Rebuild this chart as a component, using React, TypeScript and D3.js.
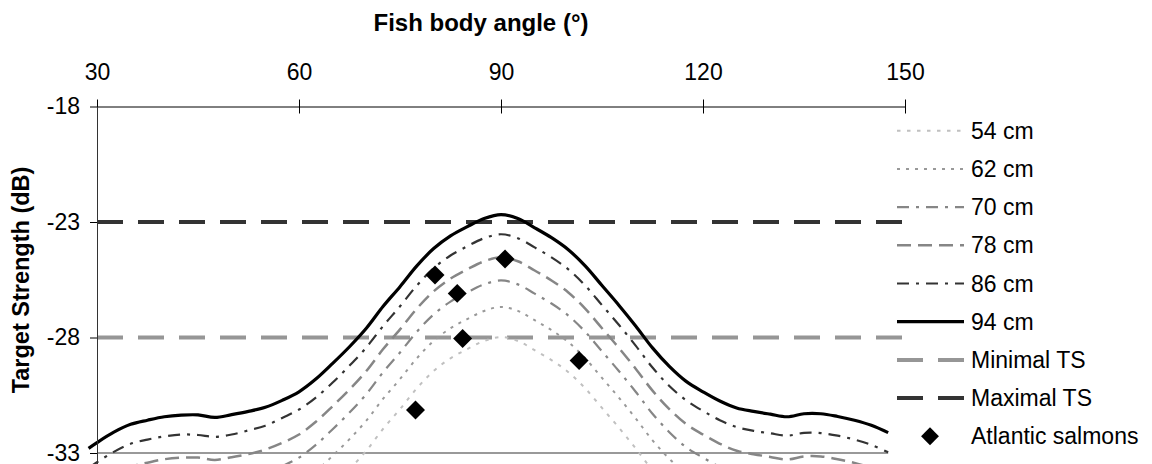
import * as d3 from 'd3';
import React, { Component } from 'react';

// fish body angle (deg), shared by every modelled curve
const angles = [
  28.75, 30, 32.5, 35, 37.5, 40, 42.5, 45, 47.5, 50, 52.5, 55, 57.5, 60, 62.5, 65, 67.5, 70,
  72.5, 75, 77.5, 80, 82.5, 85, 87.5, 90, 92.5, 95, 97.5, 100, 102.5, 105, 107.5, 110, 112.5,
  115, 117.5, 120, 122.5, 125, 127.5, 130, 132.5, 135, 137.5, 140, 142.5, 145, 147.5,
];

const sizeLabels = ['54 cm', '62 cm', '70 cm', '78 cm', '86 cm', '94 cm'];

const ts54 = [
  -38.1, -37.85, -37.4, -37.06, -36.88, -36.73, -36.66, -36.65, -36.76, -36.64, -36.5, -36.32,
  -36.02, -35.65, -35.1, -34.42, -33.7, -32.9, -31.95, -31.1, -30.2, -29.45, -28.9, -28.5,
  -28.15, -27.98, -28.15, -28.55, -28.98, -29.5, -30.2, -31.05, -31.9, -32.8, -33.75, -34.55,
  -35.2, -35.65, -36.05, -36.35, -36.5, -36.62, -36.73, -36.6, -36.6, -36.72, -36.88, -37.1, -37.42,
];
const ts62 = [
  -36.8, -36.55, -36.1, -35.76, -35.58, -35.43, -35.36, -35.35, -35.46, -35.34, -35.2, -35.02,
  -34.72, -34.35, -33.8, -33.12, -32.4, -31.6, -30.65, -29.8, -28.9, -28.15, -27.6, -27.2,
  -26.85, -26.68, -26.85, -27.25, -27.68, -28.2, -28.9, -29.75, -30.6, -31.5, -32.45, -33.25,
  -33.9, -34.35, -34.75, -35.05, -35.2, -35.32, -35.43, -35.3, -35.3, -35.42, -35.58, -35.8, -36.12,
];
const ts70 = [
  -35.65, -35.4, -34.95, -34.6, -34.43, -34.28, -34.2, -34.2, -34.3, -34.2, -34.05, -33.87,
  -33.57, -33.2, -32.65, -31.97, -31.25, -30.45, -29.5, -28.65, -27.75, -27.0, -26.45, -26.05,
  -25.7, -25.53, -25.7, -26.1, -26.53, -27.05, -27.75, -28.6, -29.45, -30.35, -31.3, -32.1,
  -32.75, -33.2, -33.6, -33.9, -34.05, -34.17, -34.28, -34.15, -34.15, -34.27, -34.43, -34.65, -34.97,
];
const ts78 = [
  -34.65, -34.4, -33.95, -33.6, -33.42, -33.27, -33.2, -33.2, -33.3, -33.18, -33.05, -32.85,
  -32.56, -32.2, -31.65, -30.97, -30.25, -29.45, -28.5, -27.65, -26.75, -26.0, -25.45, -25.05,
  -24.7, -24.53, -24.7, -25.1, -25.53, -26.05, -26.75, -27.6, -28.45, -29.35, -30.3, -31.1,
  -31.75, -32.2, -32.6, -32.9, -33.05, -33.17, -33.28, -33.15, -33.15, -33.27, -33.43, -33.65, -33.97,
];
const ts86 = [
  -33.65, -33.4, -32.95, -32.6, -32.42, -32.28, -32.2, -32.22, -32.3, -32.2, -32.02, -31.82,
  -31.48, -31.12, -30.6, -29.95, -29.22, -28.43, -27.5, -26.65, -25.75, -25.0, -24.45, -24.05,
  -23.7, -23.53, -23.7, -24.1, -24.53, -25.05, -25.75, -26.6, -27.45, -28.35, -29.3, -30.1,
  -30.72, -31.18, -31.58, -31.88, -32.04, -32.15, -32.25, -32.13, -32.14, -32.25, -32.42, -32.65, -32.97,
];
const ts94 = [
  -32.8, -32.55, -32.1, -31.76, -31.58, -31.43, -31.36, -31.35, -31.46, -31.34, -31.2, -31.02,
  -30.72, -30.35, -29.8, -29.12, -28.4, -27.6, -26.65, -25.8, -24.9, -24.15, -23.6, -23.2,
  -22.85, -22.68, -22.85, -23.25, -23.68, -24.2, -24.9, -25.75, -26.6, -27.5, -28.45, -29.25,
  -29.9, -30.35, -30.75, -31.05, -31.2, -31.32, -31.43, -31.3, -31.3, -31.42, -31.58, -31.8, -32.12,
];

const salmonAngles = [77.3, 80.2, 83.5, 84.3, 90.6, 101.6];
const salmonTS = [-31.14, -25.29, -26.09, -28.04, -24.6, -29.0];

const minimalTS = -28;
const maximalTS = -23;
const baseTS = -33;

const xTicks = [30, 60, 90, 120, 150];
const yTicks = [-18, -23, -28, -33];

const font = "'Liberation Sans', Arial, sans-serif";

// one style per size curve, same order as sizeLabels
const curveStyles = [
  { color: '#c0c0c0', width: 2, dash: '3.5,6.5' },
  { color: '#999999', width: 2, dash: '3,6' },
  { color: '#868686', width: 2.2, dash: '12,7,3,7' },
  { color: '#868686', width: 2.5, dash: '14,7' },
  { color: '#333333', width: 2.2, dash: '12,7,3,7' },
  { color: '#000000', width: 3.2, dash: null },
];

interface IChartProps {}

class FishChart extends Component<IChartProps> {
  private node: any;
  constructor(props) {
    super(props);
    this.createChart = this.createChart.bind(this);
  }

  componentDidMount() {
    this.createChart();
  }

  componentDidUpdate() {
    this.createChart();
  }

  createChart() {
    const width = 1152;
    const height = 464;
    const series = [ts54, ts62, ts70, ts78, ts86, ts94];

    const svg = d3.select(this.node);
    svg.selectAll('*').remove();
    svg
      .attr('width', width)
      .attr('height', height)
      .style('position', 'absolute')
      .style('left', '0px')
      .style('top', '0px')
      .style('font-family', font)
      .style('background', '#fff');

    // plot runs past the bottom of the picture, like the cropped original
    const x = d3.scaleLinear().domain([30, 150]).range([97, 905]);
    const y = d3.scaleLinear().domain([-38, -18]).range([568.5, 106.5]);

    // grey base line
    svg
      .append('line')
      .attr('x1', x(30))
      .attr('x2', x(angles[angles.length - 1]))
      .attr('y1', y(baseTS))
      .attr('y2', y(baseTS))
      .attr('stroke', '#999')
      .attr('stroke-width', 2);

    // threshold lines
    const thresholds = [
      { v: minimalTS, color: '#969696' },
      { v: maximalTS, color: '#333333' },
    ];
    thresholds.forEach((t) => {
      svg
        .append('line')
        .attr('x1', x(30))
        .attr('x2', x(150))
        .attr('y1', y(t.v))
        .attr('y2', y(t.v))
        .attr('stroke', t.color)
        .attr('stroke-width', 4)
        .attr('stroke-dasharray', '26,15');
    });

    const line = d3
      .line<number>()
      .x((d, i) => x(angles[i]))
      .y((d) => y(d))
      .curve(d3.curveCatmullRom.alpha(0.5));

    series.forEach((s, i) => {
      const st = curveStyles[i];
      svg
        .append('path')
        .attr('d', line(s))
        .attr('fill', 'none')
        .attr('stroke', st.color)
        .attr('stroke-width', st.width)
        .attr('stroke-dasharray', st.dash);
    });

    // salmon measurements
    const diamond = d3.symbol().type(d3.symbolSquare).size(180);
    svg
      .selectAll('path.salmon')
      .data(salmonAngles)
      .enter()
      .append('path')
      .attr('class', 'salmon')
      .attr('d', diamond)
      .attr('transform', (d, i) => 'translate(' + x(d) + ',' + y(salmonTS[i]) + ') rotate(45)')
      .attr('fill', '#000');

    // axes
    const xAxis = d3
      .axisTop(x)
      .tickValues(xTicks)
      .tickSize(7)
      .tickSizeOuter(0)
      .tickPadding(20)
      .tickFormat((d) => String(d));
    const gx = svg
      .append('g')
      .attr('transform', 'translate(0,' + y(-18) + ')')
      .call(xAxis);
    gx.attr('font-size', 23).attr('font-family', font);
    gx.selectAll('.tick line').attr('y1', 7);
    gx.selectAll('text').attr('fill', '#000');

    const yAxis = d3
      .axisLeft(y)
      .tickValues(yTicks)
      .tickSize(7)
      .tickSizeOuter(0)
      .tickPadding(10)
      .tickFormat((d) => String(d));
    const gy = svg
      .append('g')
      .attr('transform', 'translate(' + x(30) + ',0)')
      .call(yAxis);
    gy.attr('font-size', 23).attr('font-family', font);
    gy.select('.domain').attr('stroke', '#333');
    gy.selectAll('text').attr('fill', '#000');

    // titles
    svg
      .append('text')
      .attr('x', 481)
      .attr('y', 31)
      .attr('text-anchor', 'middle')
      .attr('font-size', 24)
      .attr('font-weight', 'bold')
      .text('Fish body angle (°)');

    svg
      .append('text')
      .attr('transform', 'translate(29,280) rotate(-90)')
      .attr('text-anchor', 'middle')
      .attr('font-size', 23.5)
      .attr('font-weight', 'bold')
      .text('Target Strength (dB)');

    // legend
    const legendItems = [
      ...sizeLabels.map((label, i) => ({ label, kind: 'line', ...curveStyles[i] })),
      { label: 'Minimal TS', kind: 'line', color: '#969696', width: 4, dash: '26,15' },
      { label: 'Maximal TS', kind: 'line', color: '#333333', width: 4, dash: '26,15' },
      { label: 'Atlantic salmons', kind: 'marker', color: '#000', width: 0, dash: null },
    ];
    const lg = svg.append('g');
    legendItems.forEach((item, i) => {
      const ly = 130.7 + i * 38.2;
      if (item.kind === 'line') {
        lg.append('line')
          .attr('x1', 897)
          .attr('x2', 964)
          .attr('y1', ly)
          .attr('y2', ly)
          .attr('stroke', item.color)
          .attr('stroke-width', item.width)
          .attr('stroke-dasharray', item.dash);
      } else {
        lg.append('path')
          .attr('d', d3.symbol().type(d3.symbolSquare).size(160))
          .attr('transform', 'translate(930,' + ly + ') rotate(45)')
          .attr('fill', item.color);
      }
      lg.append('text')
        .attr('x', 971)
        .attr('y', ly)
        .attr('dy', '0.35em')
        .attr('font-size', 23)
        .text(item.label);
    });
  }

  render() {
    return <svg ref={(node) => (this.node = node)} />;
  }
}

export default function App() {
  return <FishChart />;
}
